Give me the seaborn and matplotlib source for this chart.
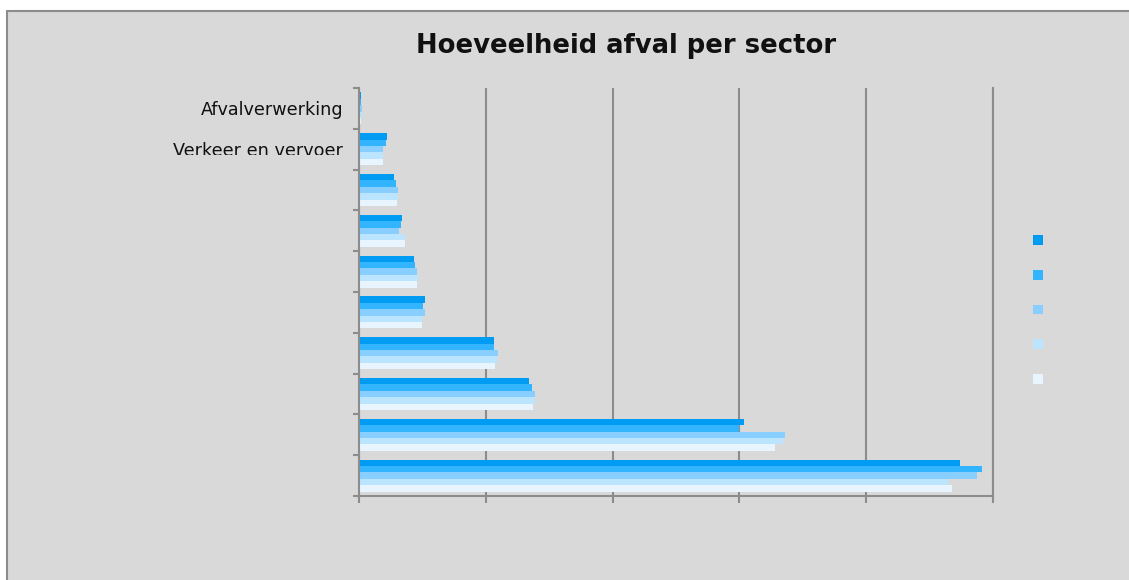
import matplotlib
matplotlib.use("Agg")
import matplotlib.pyplot as plt
import seaborn as sns
import pandas as pd
import numpy as np
from matplotlib.patches import Rectangle, Patch
from matplotlib.transforms import Bbox

# sectors, top to bottom as in the chart (only the first two labels are shown)
sectors = ["Afvalverwerking", "Verkeer en vervoer", "Energie", "Landbouw", "Handel",
           "Delfstoffen", "Huishoudens", "Overige industrie", "Industrie", "Bouw"]
tick_labels = ["Afvalverwerking", "Verkeer en vervoer", "", "", "", "", "", "", "", ""]
series = ["Reeks 1", "Reeks 2", "Reeks 3", "Reeks 4", "Reeks 5"]

reeks1 = [1.1, 22.1, 27.6, 33.7, 43.2, 51.6, 106.6, 133.7, 303.9, 474.5]
reeks2 = [1.6, 21.1, 29.0, 32.9, 44.0, 50.3, 106.3, 136.3, 300.0, 491.8]
reeks3 = [2.4, 18.9, 30.3, 31.3, 45.3, 51.6, 109.2, 138.7, 336.0, 487.9]
reeks4 = [1.9, 18.5, 30.3, 36.1, 46.1, 49.3, 108.9, 138.9, 334.6, 465.0]
reeks5 = [1.3, 18.5, 29.5, 36.1, 45.5, 49.5, 107.1, 137.3, 328.1, 468.2]

colors = ["#009BF2", "#33B4FF", "#88CFFF", "#BBE4FF", "#E8F5FF"]
grey = "#8C8C8C"

df = pd.DataFrame({
    "sector": sectors * 5,
    "reeks": [s for s in series for _ in sectors],
    "waarde": reeks1 + reeks2 + reeks3 + reeks4 + reeks5,
})

W, H = 1129, 580
fig = plt.figure(figsize=(W / 100, H / 100), dpi=100, facecolor="white")
fig.add_artist(Rectangle((7 / W, -0.1), 2, 1 - 11 / H + 0.1, transform=fig.transFigure,
                         facecolor="#D9D9D9", edgecolor=grey, lw=1.5, zorder=0))

ax = fig.add_axes([359.3 / W, 1 - 496 / H, (992.7 - 359.3) / W, (496 - 88) / H])
ax.patch.set_visible(False)

sns.barplot(data=df, x="waarde", y="sector", hue="reeks", order=sectors, hue_order=series,
            palette=colors, width=0.78, gap=0, saturation=1, linewidth=0, legend=False, ax=ax)

ax.set_xlim(0, 500)
ax.set_ylim(9.5, -0.5)
ax.set_xlabel("")
ax.set_ylabel("")

ax.set_xticks([0, 100, 200, 300, 400, 500])
ax.set_xticklabels([])
ax.grid(axis="x", color=grey, lw=1.5)
ax.set_axisbelow(True)
ax.tick_params(axis="x", length=5, width=1.5, color=grey, direction="out")

ax.set_yticks(range(len(sectors)))
ax.set_yticklabels(tick_labels, fontsize=12.7, color="#111111")
ax.set_yticks(np.arange(-0.5, len(sectors), 1), minor=True)
ax.tick_params(axis="y", which="major", length=0, pad=11.5)
ax.tick_params(axis="y", which="minor", length=4.5, width=1.5, color=grey)

for side in ["left", "bottom", "right"]:
    ax.spines[side].set_color(grey)
    ax.spines[side].set_linewidth(1.5)
ax.spines["top"].set_visible(False)

# second label is cut off at its bottom in the original
lab = ax.get_yticklabels()[1]
lab.set_clip_box(Bbox.from_extents(0, H - 155, W, H))
lab.set_clip_on(True)

fig.text(625.8 / W, 1 - 46 / H, "Hoeveelheid afval per sector", ha="center", va="center",
         fontsize=18.6, fontweight="bold", color="#111111")

handles = [Patch(facecolor=c, edgecolor="none") for c in colors]
fig.legend(handles, [" "] * 5, loc="upper left", bbox_to_anchor=(1033 / W, 1 - 234 / H),
           bbox_transform=fig.transFigure, frameon=False, fontsize=10, borderpad=0,
           borderaxespad=0, handlelength=0.72, handleheight=0.72, labelspacing=1.49)

fig.savefig("out.png", dpi=100)
